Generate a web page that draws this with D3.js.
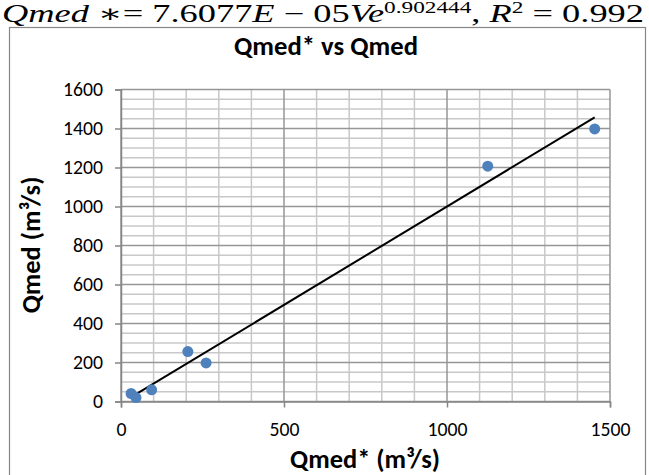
<!DOCTYPE html>
<html><head><meta charset="utf-8">
<script src="https://cdn.jsdelivr.net/npm/d3@7"></script>
<style>
body{margin:0;background:#fff;}
svg{display:block;}
</style></head>
<body>
<script>
// Data (Qmed* on x, Qmed on y)
const qmedStar = [31, 46, 94, 205, 261, 1125, 1453];
const qmed     = [41, 20, 60, 256, 198, 1207, 1398];
const xTicks = [0, 500, 1000, 1500];
const yTicks = [0, 200, 400, 600, 800, 1000, 1200, 1400, 1600];
const titleText = "Qmed* vs Qmed";
const xLabel = "Qmed* (m³/s)";
const yLabel = "Qmed (m³/s)";

const W = 649, H = 475;
const svg = d3.select("body").append("svg").attr("width", W).attr("height", H);
const sans = "Carlito, 'Open Sans', Lato, 'Liberation Sans', sans-serif";

function fitWidth(sel, target) {
  const fs = +sel.attr("font-size");
  const w = sel.node().getComputedTextLength();
  const nf = fs * target / w;
  sel.attr("font-size", nf);
  return nf;
}

// Equation above the chart
const eq = svg.append("text").attr("x", 2).attr("y", 22)
  .attr("font-family", "'Liberation Serif', 'DejaVu Serif', serif")
  .attr("font-size", 25).attr("fill", "#000");
eq.append("tspan").attr("font-style", "italic").text("Qmed");
eq.append("tspan").text(" ∗= 7.6077");
eq.append("tspan").attr("font-style", "italic").text("E");
eq.append("tspan").text(" − 05");
eq.append("tspan").attr("font-style", "italic").text("Ve");
eq.append("tspan").attr("font-size", 16).attr("dy", -9).text("0.902444");
eq.append("tspan").attr("dy", 9).text(", ");
eq.append("tspan").attr("font-style", "italic").text("R");
eq.append("tspan").attr("font-size", 16).attr("dy", -9).text("2");
eq.append("tspan").attr("dy", 9).text(" = 0.992");
eq.attr("textLength", 642).attr("lengthAdjust", "spacingAndGlyphs");

// Chart frame
svg.append("rect").attr("x", 9.5).attr("y", 27.5).attr("width", 636).attr("height", 460)
  .attr("fill", "none").attr("stroke", "#868686").attr("stroke-width", 1.2);

const x = d3.scaleLinear().domain([0, 1500]).range([121, 610]);
const y = d3.scaleLinear().domain([0, 1600]).range([401.5, 89.5]);

// Gridlines
const g = svg.append("g");
const minorX = d3.range(0, 1501, 100).filter(v => v % 500 !== 0);
const minorY = d3.range(0, 1601, 50).filter(v => v % 200 !== 0);
g.selectAll(".mx").data(minorX).join("line")
  .attr("x1", d => x(d)).attr("x2", d => x(d)).attr("y1", y(0)).attr("y2", y(1600))
  .attr("stroke", "#c8c8c8").attr("stroke-width", 1.5);
g.selectAll(".my").data(minorY).join("line")
  .attr("x1", x(0)).attr("x2", x(1500)).attr("y1", d => y(d)).attr("y2", d => y(d))
  .attr("stroke", "#c8c8c8").attr("stroke-width", 1.5);
g.selectAll(".Mx").data(xTicks).join("line")
  .attr("x1", d => x(d)).attr("x2", d => x(d)).attr("y1", y(0)).attr("y2", y(1600))
  .attr("stroke", "#969696").attr("stroke-width", 1.5);
g.selectAll(".My").data(yTicks).join("line")
  .attr("x1", x(0)).attr("x2", x(1500)).attr("y1", d => y(d)).attr("y2", d => y(d))
  .attr("stroke", "#969696").attr("stroke-width", 1.5);

// Axes
const xAxis = svg.append("g").attr("transform", `translate(0,${y(0)})`)
  .call(d3.axisBottom(x).tickValues(xTicks).tickSize(6).tickPadding(14).tickFormat(d3.format("d")));
const yAxis = svg.append("g").attr("transform", `translate(${x(0)},0)`)
  .call(d3.axisLeft(y).tickValues(yTicks).tickSize(6).tickPadding(12).tickFormat(d3.format("d")));
[xAxis, yAxis].forEach(a => {
  a.select(".domain").attr("stroke", "#868686").attr("stroke-width", 1.5);
  a.selectAll(".tick line").attr("stroke", "#868686").attr("stroke-width", 1.5);
  a.selectAll(".tick text").attr("font-family", sans).attr("font-size", 16).attr("fill", "#000");
});
{
  const t = yAxis.selectAll(".tick text").filter(d => d === 1600);
  const w = t.node().getComputedTextLength();
  const fs = 16 * 40 / w;
  [xAxis, yAxis].forEach(a => a.selectAll(".tick text").attr("font-size", fs));
}

// Trend line: least-squares linear fit over the data
const mx = d3.mean(qmedStar), my = d3.mean(qmed);
const slope = d3.sum(qmedStar.map((v, i) => (v - mx) * (qmed[i] - my))) /
              d3.sum(qmedStar.map(v => (v - mx) ** 2));
const icpt = my - slope * mx;
const tx = d3.extent(qmedStar);
svg.append("line")
  .attr("x1", x(tx[0])).attr("y1", y(icpt + slope * tx[0]))
  .attr("x2", x(tx[1])).attr("y2", y(icpt + slope * tx[1]))
  .attr("stroke", "#000").attr("stroke-width", 2);

// Points
svg.selectAll(".pt").data(qmedStar).join("circle")
  .attr("cx", d => x(d)).attr("cy", (d, i) => y(qmed[i])).attr("r", 5.5)
  .attr("fill", "#4f81bd");

// Titles
const tt = svg.append("text").attr("x", 326).attr("y", 55).attr("text-anchor", "middle")
  .attr("font-family", sans).attr("font-weight", "bold").attr("font-size", 22).text(titleText);
fitWidth(tt, 184);
const xl = svg.append("text").attr("x", 365).attr("y", 468).attr("text-anchor", "middle")
  .attr("font-family", sans).attr("font-weight", "bold").attr("font-size", 18).text(xLabel);
const lfs = fitWidth(xl, 150);
svg.append("text").attr("transform", "translate(40,245) rotate(-90)").attr("text-anchor", "middle")
  .attr("font-family", sans).attr("font-weight", "bold").attr("font-size", lfs).text(yLabel);
</script>
</body></html>
